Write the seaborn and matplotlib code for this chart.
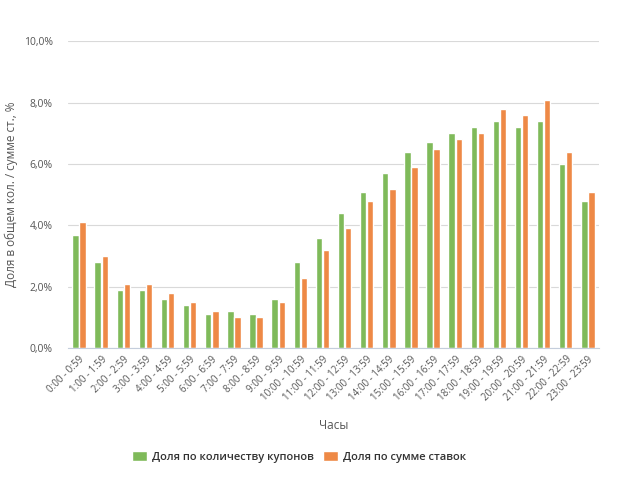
import numpy as np
import pandas as pd
import matplotlib
matplotlib.use("Agg")
import matplotlib.pyplot as plt
import seaborn as sns
from matplotlib.ticker import FuncFormatter, FixedLocator

hours = ["0:00 - 0:59", "1:00 - 1:59", "2:00 - 2:59", "3:00 - 3:59", "4:00 - 4:59",
         "5:00 - 5:59", "6:00 - 6:59", "7:00 - 7:59", "8:00 - 8:59", "9:00 - 9:59",
         "10:00 - 10:59", "11:00 - 11:59", "12:00 - 12:59", "13:00 - 13:59",
         "14:00 - 14:59", "15:00 - 15:59", "16:00 - 16:59", "17:00 - 17:59",
         "18:00 - 18:59", "19:00 - 19:59", "20:00 - 20:59", "21:00 - 21:59",
         "22:00 - 22:59", "23:00 - 23:59"]
share_count = [3.7, 2.8, 1.9, 1.9, 1.6, 1.4, 1.1, 1.2, 1.1, 1.6, 2.8, 3.6, 4.4, 5.1,
               5.7, 6.4, 6.7, 7.0, 7.2, 7.4, 7.2, 7.4, 6.0, 4.8]
share_sum = [4.1, 3.0, 2.1, 2.1, 1.8, 1.5, 1.2, 1.0, 1.0, 1.5, 2.3, 3.2, 3.9, 4.8,
             5.2, 5.9, 6.5, 6.8, 7.0, 7.8, 7.6, 8.1, 6.4, 5.1]
series_names = ["Доля по количеству купонов", "Доля по сумме ставок"]
y_ticks = [0, 2, 4, 6, 8, 10]

df = pd.DataFrame({
    "hour": hours * 2,
    "value": share_count + share_sum,
    "series": [series_names[0]] * len(hours) + [series_names[1]] * len(hours),
})

sns.set_style("white")
plt.rcParams["font.family"] = ["Open Sans", "DejaVu Sans"]

fig = plt.figure(figsize=(6.21, 4.96), dpi=100)
ax = fig.add_axes([0.1095, 0.298, 0.855, 0.619])

palette = ["#7fba5a", "#ee8946"]
sns.barplot(data=df, x="hour", y="value", hue="series", palette=palette,
            width=0.64, gap=0.1, ax=ax, saturation=1, legend=True)

ax.set_ylim(0, 10)
ax.set_xlim(-0.5, len(hours) - 0.5)
ax.yaxis.set_major_locator(FixedLocator(y_ticks))
ax.yaxis.set_major_formatter(FuncFormatter(lambda v, p: f"{v:.1f}%".replace(".", ",")))
ax.grid(axis="y", color="#d9d9d9", linewidth=0.8)
ax.set_axisbelow(True)
for s in ["top", "right", "left"]:
    ax.spines[s].set_visible(False)
ax.spines["bottom"].set_color("#c5cedc")
ax.spines["bottom"].set_linewidth(0.8)

ax.tick_params(axis="y", length=8, color="#d9d9d9", labelsize=7.5, labelcolor="#555555", pad=3)
ax.set_xticks(range(len(hours)))
ax.set_xticklabels(hours, rotation=45, ha="right", rotation_mode="anchor",
                   fontsize=7, color="#555555")
ax.tick_params(axis="x", length=0, pad=4)
ax.set_xticks(np.arange(-0.5, len(hours), 1.0), minor=True)
ax.tick_params(axis="x", which="minor", length=7, color="#c5cedc", width=0.8)

ax.set_xlabel("Часы", fontsize=8.5, color="#555555", labelpad=12)
ax.set_ylabel("Доля в общем кол. / сумме ст., %", fontsize=8.5, color="#555555")
ax.yaxis.set_label_coords(-0.095, 0.5)

handles, labels = ax.get_legend_handles_labels()
ax.legend(handles, labels, loc="center", bbox_to_anchor=(299 / 621, 1 - 457 / 496),
          bbox_transform=fig.transFigure, ncol=2, frameon=False,
          prop={"size": 8, "weight": "semibold"},
          handlelength=1.3, handleheight=1.0, columnspacing=0.9, handletextpad=0.45,
          labelcolor="#333333")

fig.savefig("out.png", dpi=100)
